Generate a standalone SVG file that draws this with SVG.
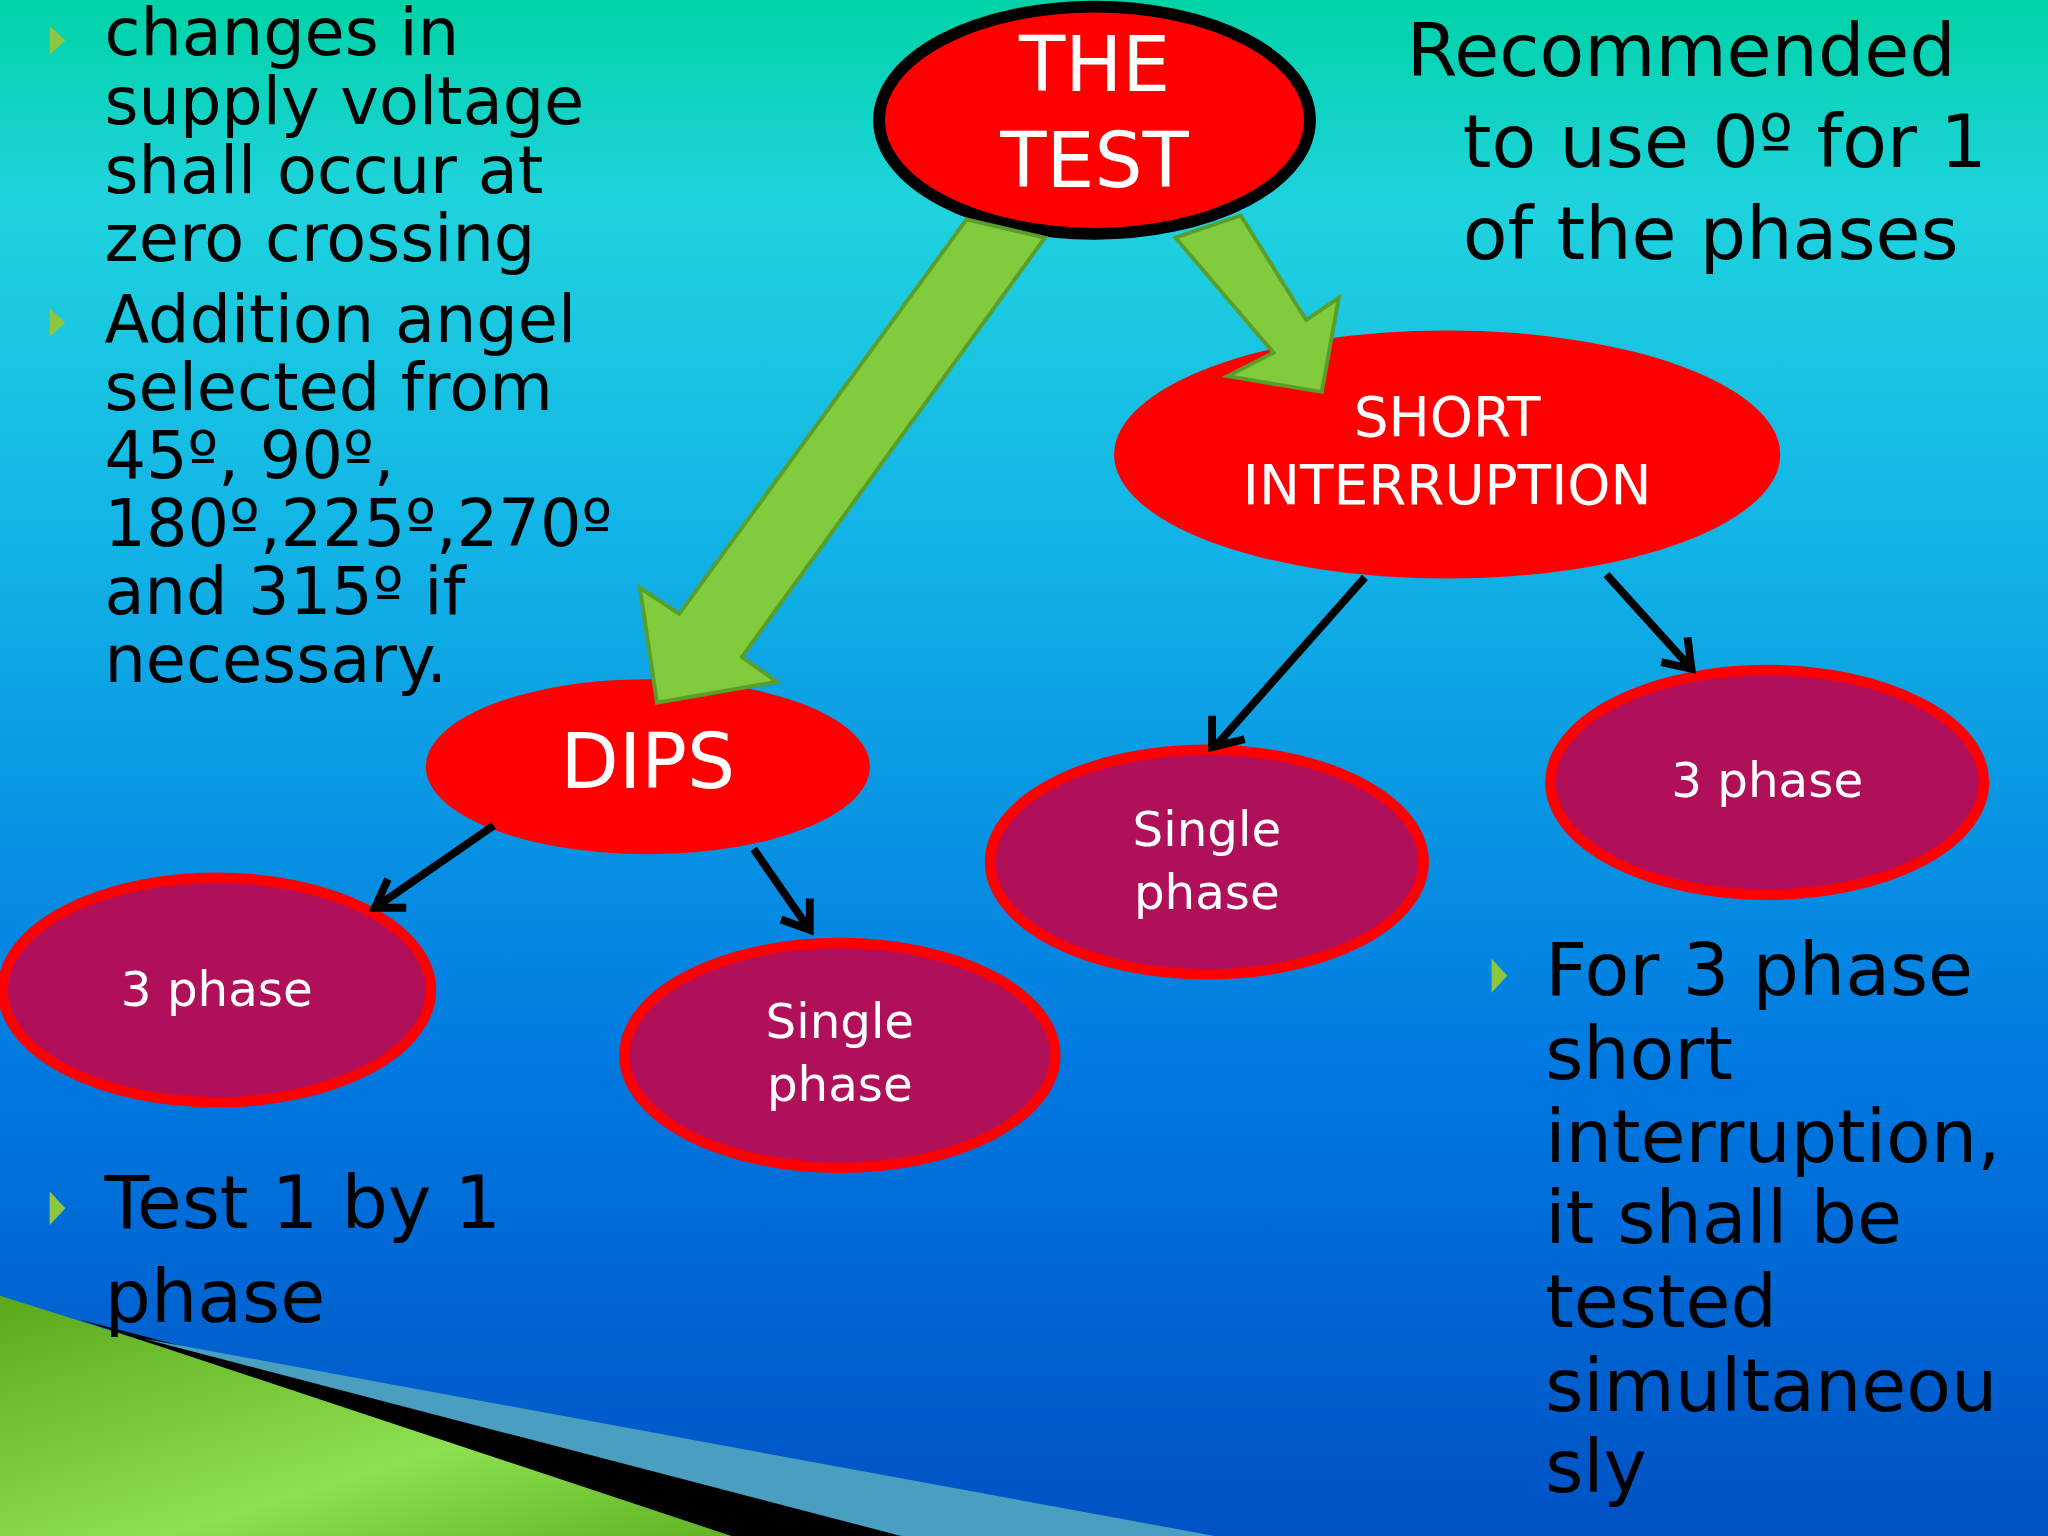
<svg xmlns="http://www.w3.org/2000/svg" width="2048" height="1536" viewBox="0 0 2048 1536">
<defs>
<linearGradient id="bg" x1="0" y1="0" x2="0" y2="1">
<stop offset="0" stop-color="#00d3a6"/>
<stop offset="0.13" stop-color="#1fd3dd"/>
<stop offset="0.35" stop-color="#12b4e6"/>
<stop offset="0.7" stop-color="#0078e0"/>
<stop offset="1" stop-color="#0052c4"/>
</linearGradient>
<linearGradient id="gr" x1="0" y1="0" x2="1" y2="1">
<stop offset="0" stop-color="#5aa81a"/>
<stop offset="0.6" stop-color="#8de050"/>
<stop offset="1" stop-color="#5cb020"/>
</linearGradient>
<style>
.t{font-family:"DejaVu Sans",Verdana,sans-serif;fill:#000}
.w{font-family:"DejaVu Sans",Verdana,sans-serif;fill:#fff;text-anchor:middle}
.red{fill:#ff0000}
.ph{fill:#b0105a;stroke:#ff0000;stroke-width:8}
.bl{fill:#8dc63f}
.con{stroke:#000;stroke-width:6;fill:none}
.ga{fill:#80cc3c;stroke:#5a9e2a;stroke-width:3}
</style>
</defs>
<g transform="scale(1.30612)">
<rect width="1568" height="1176" fill="url(#bg)"/>
<polygon points="0,992 120,1030 600,1176 0,1176" fill="url(#gr)"/>
<polygon points="60,1010 700,1176 560,1176" fill="#000"/>
<polygon points="110,1025 930,1176 690,1176" fill="#4a9ec0"/>

<g id="the-test">
<ellipse cx="838" cy="92" rx="165" ry="87" class="red" stroke="#000" stroke-width="9"/>
<text class="w" x="838" y="70" font-size="58">THE</text>
<text class="w" x="838" y="143" font-size="58">TEST</text>
</g>
<g id="short">
<ellipse cx="1108" cy="348" rx="255" ry="95" class="red"/>
<text class="w" x="1108" y="334" font-size="42">SHORT</text>
<text class="w" x="1108" y="386" font-size="42">INTERRUPTION</text>
</g>
<g id="dips">
<ellipse cx="496" cy="587" rx="170" ry="67" class="red"/>
<text class="w" x="496" y="603" font-size="58">DIPS</text>
</g>
<g id="dips-3phase">
<ellipse cx="166" cy="758" rx="164" ry="86" class="ph"/>
<text class="w" x="166" y="770" font-size="37">3 phase</text>
</g>
<g id="dips-single">
<ellipse cx="643" cy="808" rx="165" ry="86" class="ph"/>
<text class="w" x="643" y="795" font-size="37">Single</text>
<text class="w" x="643" y="843" font-size="37">phase</text>
</g>
<g id="short-single">
<ellipse cx="924" cy="660" rx="166" ry="86" class="ph"/>
<text class="w" x="924" y="648" font-size="37">Single</text>
<text class="w" x="924" y="696" font-size="37">phase</text>
</g>
<g id="short-3phase">
<ellipse cx="1353" cy="599" rx="166" ry="86" class="ph"/>
<text class="w" x="1353" y="610" font-size="37">3 phase</text>
</g>

<g id="connectors">
<polygon class="ga" points="740,168 800,182 568,503 595,522 503,538 490,450 520,470"/>
<polygon class="ga" points="900,182 950,165 1000,245 1025,228 1012,300 940,288 975,270"/>
<path class="con" d="M1045,442 L930,572 M928,548 L928,572 L953,566"/>
<path class="con" d="M1230,440 L1295,512 M1272,507 L1295,512 L1292,488"/>
<path class="con" d="M378,632 L287,695 M297,673 L287,695 L311,695"/>
<path class="con" d="M577,650 L620,712 M620,688 L620,712 L598,704"/>
</g>

<g id="left-text">
<polygon class="bl" points="38,20 50,31 38,42"/>
<polygon class="bl" points="38,236 50,247 38,258"/>
<text class="t" font-size="50">
<tspan x="80" y="42">changes in</tspan>
<tspan x="80" y="95">supply voltage</tspan>
<tspan x="80" y="148">shall occur at</tspan>
<tspan x="80" y="200">zero crossing</tspan>
<tspan x="80" y="262">Addition angel</tspan>
<tspan x="80" y="314">selected from</tspan>
<tspan x="80" y="366">45º, 90º,</tspan>
<tspan x="80" y="418">180º,225º,270º</tspan>
<tspan x="80" y="470">and 315º if</tspan>
<tspan x="80" y="522">necessary.</tspan>
</text>
</g>
<g id="right-top-text">
<text class="t" font-size="56">
<tspan x="1077" y="58">Recommended</tspan>
<tspan x="1120" y="128">to use 0º for 1</tspan>
<tspan x="1120" y="198">of the phases</tspan>
</text>
</g>
<g id="left-bottom-text">
<polygon class="bl" points="38,912 50,925 38,938"/>
<text class="t" font-size="56">
<tspan x="80" y="940">Test 1 by 1</tspan>
<tspan x="80" y="1012">phase</tspan>
</text>
</g>
<g id="right-bottom-text">
<polygon class="bl" points="1142,734 1154,747 1142,760"/>
<text class="t" font-size="56">
<tspan x="1183" y="762">For 3 phase</tspan>
<tspan x="1183" y="826">short</tspan>
<tspan x="1183" y="890">interruption,</tspan>
<tspan x="1183" y="952">it shall be</tspan>
<tspan x="1183" y="1016">tested</tspan>
<tspan x="1183" y="1080">simultaneou</tspan>
<tspan x="1183" y="1142">sly</tspan>
</text>
</g>
</g>
</svg>
